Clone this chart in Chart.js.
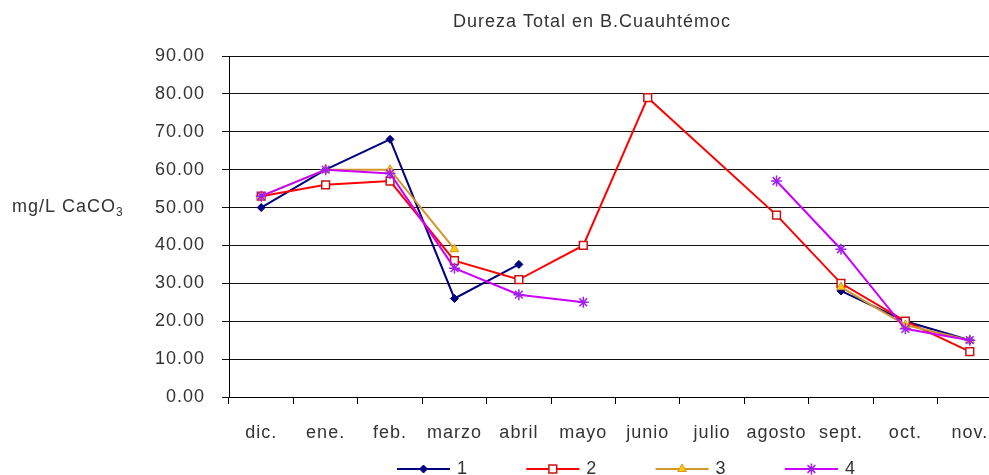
<!DOCTYPE html>
<html>
<head>
<meta charset="utf-8">
<script src="https://cdn.jsdelivr.net/npm/chart.js@4/dist/chart.umd.min.js"></script>
<style>
  html, body { margin: 0; padding: 0; background: #fff; overflow: hidden; }
  #wrap { width: 1010px; height: 475px; }
</style>
</head>
<body>
<div id="wrap"><canvas id="dureza-chart" width="1010" height="475"></canvas></div>
<script>
const months = ["dic.", "ene.", "feb.", "marzo", "abril", "mayo", "junio", "julio", "agosto", "sept.", "oct.", "nov."];
const serie1 = [50, 60, 68, 26, 35, null, null, null, null, 28, 20, 15];
const serie2 = [53, 56, 57, 36, 31, 40, 79, null, 48, 30, 20, 12];
const serie3 = [53, 60, 60, 39, null, null, null, null, null, 29, 19, 15];
const serie4 = [53, 60, 59, 34, 27, 25, null, null, 57, 39, 18, 15];
const seriesNames = ["1", "2", "3", "4"];

const chartTitle = "Dureza Total en B.Cuauhtémoc";
const yTitle = "mg/L CaCO";
const ySub = "3";
const textColor = "#333";

Chart.defaults.font.family = "'Liberation Sans', Arial, sans-serif";
Chart.defaults.font.size = 18;
Chart.defaults.color = textColor;

// Excel-ish text spacing, re-applied because canvas resizes reset it
const spacing = {
  id: "spacing",
  beforeUpdate(chart) { chart.ctx.letterSpacing = "1px"; },
  beforeDraw(chart) { chart.ctx.letterSpacing = "1px"; },
};

// title, horizontal y label and the legend below the axis
const extras = {
  id: "extras",
  afterDraw(chart) {
    const ctx = chart.ctx;
    ctx.save();
    ctx.fillStyle = textColor;
    ctx.font = "18px 'Liberation Sans', Arial, sans-serif";
    ctx.textBaseline = "alphabetic";
    ctx.textAlign = "center";
    ctx.fillText(chartTitle, 592, 27);

    ctx.textAlign = "left";
    ctx.fillText(yTitle, 12, 212);
    const w = ctx.measureText(yTitle).width;
    ctx.font = "12px 'Liberation Sans', Arial, sans-serif";
    ctx.fillText(ySub, 12 + w, 216);

    ctx.font = "18px 'Liberation Sans', Arial, sans-serif";
    const y = 469;
    chart.data.datasets.forEach((ds, i) => {
      const x0 = 397 + i * 129.3;
      ctx.strokeStyle = ds.borderColor;
      ctx.lineWidth = 2;
      ctx.beginPath();
      ctx.moveTo(x0, y);
      ctx.lineTo(x0 + 53, y);
      ctx.stroke();
      ctx.fillStyle = ds.pointBackgroundColor;
      ctx.strokeStyle = ds.pointBorderColor;
      ctx.lineWidth = ds.pointBorderWidth;
      Chart.helpers.drawPoint(ctx, {
        pointStyle: ds.pointStyle,
        radius: ds.pointRadius,
        rotation: 0,
        borderWidth: ds.pointBorderWidth,
      }, x0 + 26.5, y);
      ctx.fillStyle = textColor;
      ctx.textBaseline = "middle";
      ctx.fillText(ds.label, x0 + 60, y);
    });
    ctx.restore();
  },
};

let config = {
  type: "line",
  data: {
    labels: months,
    datasets: [
      {
        label: seriesNames[0],
        data: serie1,
        borderColor: "#000080",
        borderWidth: 2,
        pointStyle: "rectRot",
        pointRadius: 4,
        pointBackgroundColor: "#000080",
        pointBorderColor: "#000080",
        pointBorderWidth: 1,
        spanGaps: false,
        order: 4,
      },
      {
        label: seriesNames[1],
        data: serie2,
        borderColor: "#FF0000",
        borderWidth: 2,
        pointStyle: "rect",
        pointRadius: 5.5,
        pointBackgroundColor: "#ffffff",
        pointBorderColor: "#CC1111",
        pointBorderWidth: 1.5,
        spanGaps: true,
        order: 3,
      },
      {
        label: seriesNames[2],
        data: serie3,
        borderColor: "#D4962A",
        borderWidth: 2,
        pointStyle: "triangle",
        pointRadius: 5,
        pointBackgroundColor: "#FFCC00",
        pointBorderColor: "#D4962A",
        pointBorderWidth: 1,
        spanGaps: false,
        order: 2,
      },
      {
        label: seriesNames[3],
        data: serie4,
        borderColor: "#CC00FF",
        borderWidth: 2,
        pointStyle: "star",
        pointRadius: 5.5,
        pointBackgroundColor: "#CC00FF",
        pointBorderColor: "#A020F0",
        pointBorderWidth: 1.5,
        spanGaps: false,
        order: 1,
      },
    ],
  },
  options: {
    responsive: false,
    animation: false,
    events: [],
    layout: {
      padding: { left: 0, right: 8, top: 56, bottom: 0 },
    },
    elements: {
      line: { tension: 0 },
    },
    scales: {
      x: {
        offset: true,
        grid: {
          offset: true,
          drawOnChartArea: false,
          drawTicks: true,
          tickLength: 7,
          color: "#000",
        },
        border: { color: "#000", width: 1 },
        ticks: { padding: 18, color: textColor, maxRotation: 0, autoSkip: false },
        afterFit: (scale) => { scale.height = 78; },
      },
      y: {
        min: 0,
        max: 90,
        grid: {
          color: "#111",
          lineWidth: 1,
          tickLength: 7,
        },
        border: { color: "#000", width: 1 },
        ticks: {
          stepSize: 10,
          padding: 17,
          color: textColor,
          callback: (value) => value.toFixed(2),
        },
        afterFit: (scale) => { scale.width = 229; },
      },
    },
    plugins: {
      legend: { display: false },
      title: { display: false },
      tooltip: { enabled: false },
    },
  },
  plugins: [spacing, extras],
};

const durezaChart = new Chart(document.getElementById("dureza-chart"), config);
</script>
</body>
</html>
